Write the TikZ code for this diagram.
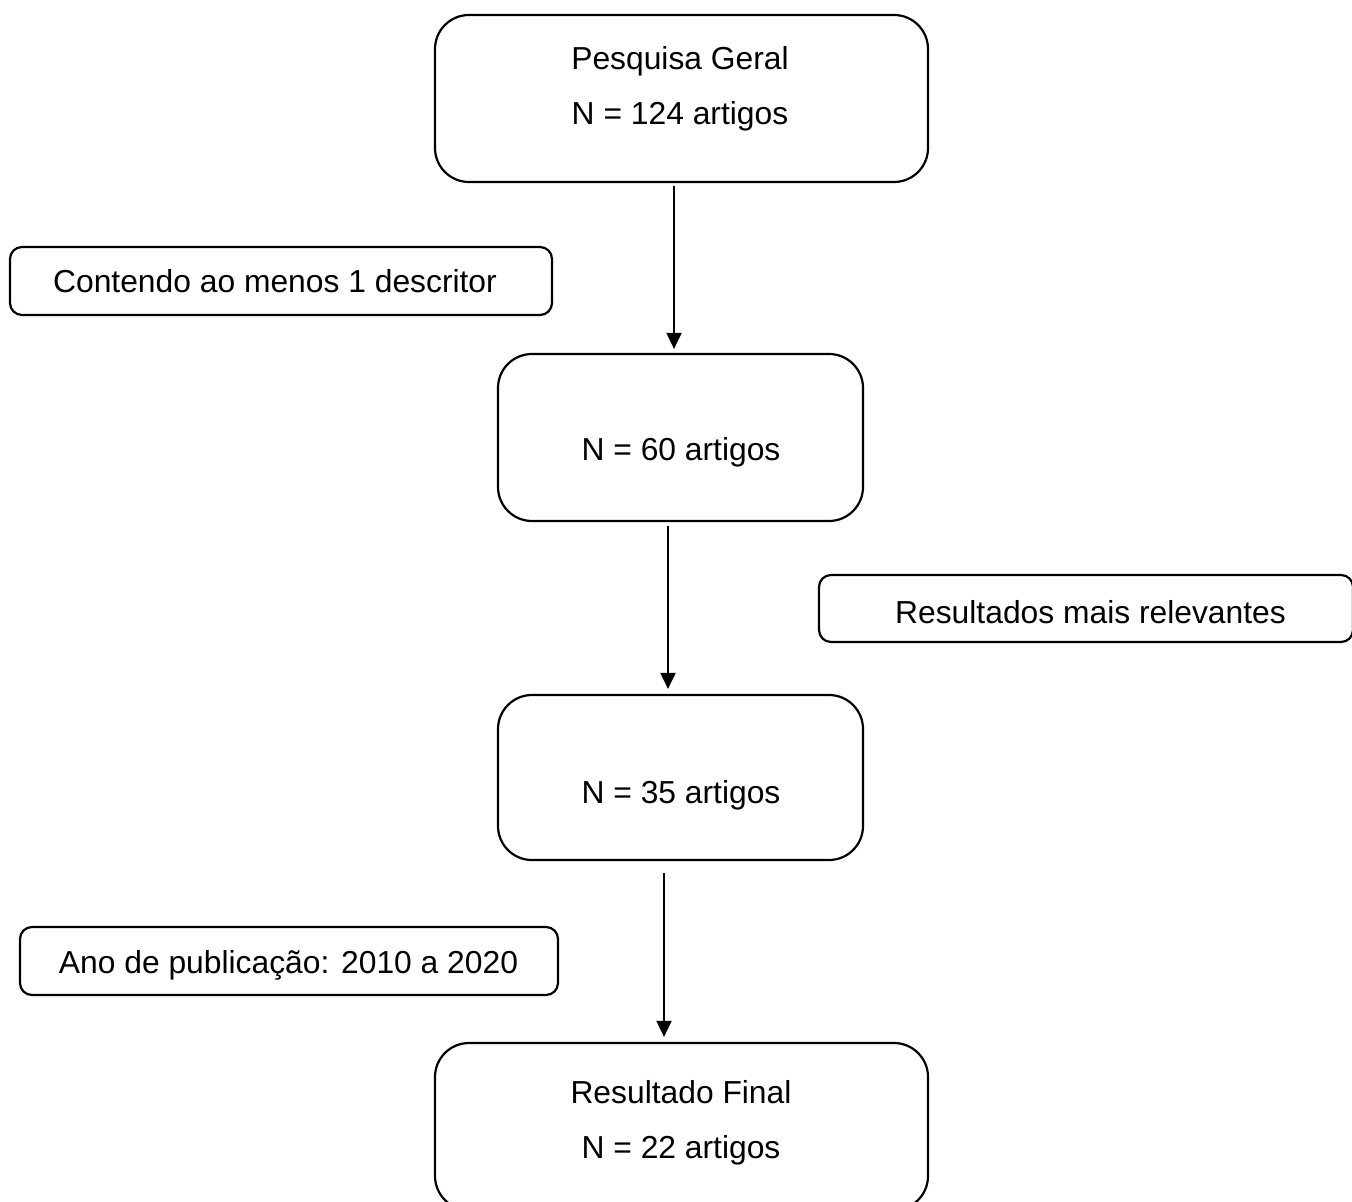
\documentclass[tikz,border=0pt]{standalone}
\usepackage{fontspec}
\setmainfont{Liberation Sans}
\usetikzlibrary{arrows.meta}
\begin{document}
\begin{tikzpicture}[x=0.5pt,y=-0.5pt,
  every node/.style={font=\fontsize{15.9pt}{19pt}\selectfont},
  bigbox/.style={draw, line width=1.1pt, rounded corners=17pt, inner sep=0pt},
  smallbox/.style={draw, line width=1.1pt, rounded corners=6pt, inner sep=0pt},
  txt/.style={anchor=base, inner sep=0pt},
  arr/.style={line width=1pt, -{Triangle[width=7.5pt,length=8pt]}}]
\clip (0,0) rectangle (1352,1202);
\fill[white] (0,0) rectangle (1352,1202);
% main boxes
\node[bigbox, minimum width=246.5pt, minimum height=83.5pt] (b1) at (681.5,98.5) {};
\node[bigbox, minimum width=182.5pt, minimum height=83.5pt] (b2) at (680.5,437.5) {};
\node[bigbox, minimum width=182.5pt, minimum height=82.5pt] (b3) at (680.5,777.5) {};
\node[bigbox, minimum width=246.5pt, minimum height=83.5pt] (b4) at (681.5,1126.5) {};
% texts
\node[txt] (t1a) at (680,69.5) {Pesquisa Geral};
\node[txt] (t1b) at (680,124.5) {N = 124 artigos};
\node[txt] (t2) at (681,461) {N = 60 artigos};
\node[txt] (t3) at (681,803) {N = 35 artigos};
\node[txt] (t4a) at (681,1103) {Resultado Final};
\node[txt] (t4b) at (681,1158) {N = 22 artigos};
% side boxes
\node[smallbox, minimum width=271pt, minimum height=34pt] (c1) at (281,281) {};
\node[smallbox, minimum width=267pt, minimum height=33.5pt] (c2) at (1086,608.5) {};
\node[smallbox, minimum width=269pt, minimum height=34pt] (c3) at (289,961) {};
\node[txt] (s1) at (275,292.5) {Contendo ao menos 1 descritor};
\node[txt] (s2) at (1090.5,623.5) {Resultados mais relevantes};
\node[txt] (s3) at (288.5,973.5) {Ano de publicação: 2010 a 2020};
% arrows
\coordinate (a1) at (674,0);
\coordinate (a2) at (668,0);
\coordinate (a3) at (664,0);
\draw[arr] ([yshift=-1.5pt]b1.south -| a1) -- ([yshift=2pt]b2.north -| a1);
\draw[arr] ([yshift=-2pt]b2.south -| a2) -- ([yshift=2.5pt]b3.north -| a2);
\draw[arr] ([yshift=-6pt]b3.south -| a3) -- ([yshift=2.5pt]b4.north -| a3);
\end{tikzpicture}
\end{document}
